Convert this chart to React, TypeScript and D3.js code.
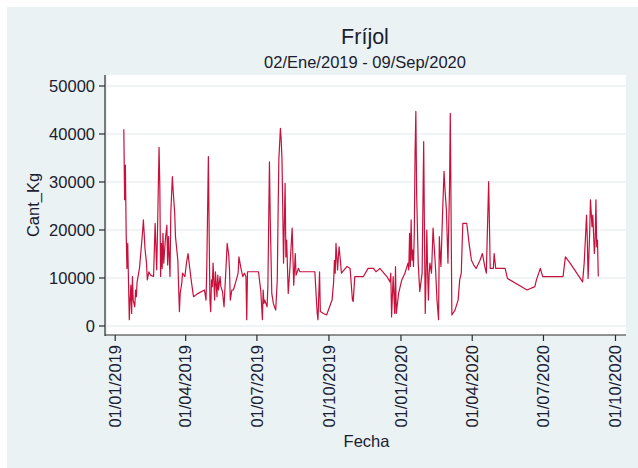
import React from "react";
import * as d3 from "d3";

const fechas = [
  "2019-01-12","2019-01-13","2019-01-14","2019-01-15","2019-01-16","2019-01-17","2019-01-18","2019-01-19","2019-01-20","2019-01-21",
  "2019-01-22","2019-01-23","2019-01-24","2019-01-26","2019-01-27","2019-01-28","2019-01-29","2019-02-01","2019-02-03","2019-02-05",
  "2019-02-06","2019-02-07","2019-02-08","2019-02-10","2019-02-11","2019-02-13","2019-02-15","2019-02-19","2019-02-21","2019-02-23",
  "2019-02-24","2019-02-26","2019-02-27","2019-02-28","2019-03-01","2019-03-02","2019-03-03","2019-03-04","2019-03-06","2019-03-08",
  "2019-03-09","2019-03-10","2019-03-12","2019-03-13","2019-03-15","2019-03-16","2019-03-18","2019-03-19","2019-03-22","2019-03-23",
  "2019-03-24","2019-03-25","2019-03-27","2019-03-28","2019-03-31","2019-04-02","2019-04-04","2019-04-07","2019-04-08","2019-04-11",
  "2019-04-17","2019-04-25","2019-04-27","2019-04-28","2019-04-30","2019-05-01","2019-05-02","2019-05-03","2019-05-04","2019-05-05",
  "2019-05-06","2019-05-08","2019-05-09","2019-05-11","2019-05-12","2019-05-13","2019-05-15","2019-05-16","2019-05-18","2019-05-20",
  "2019-05-23","2019-05-24","2019-05-26","2019-05-27","2019-05-28","2019-05-30","2019-06-01","2019-06-04","2019-06-07","2019-06-08",
  "2019-06-11","2019-06-13","2019-06-15","2019-06-17","2019-06-18","2019-06-19","2019-07-03","2019-07-06","2019-07-08","2019-07-09",
  "2019-07-10","2019-07-11","2019-07-14","2019-07-15","2019-07-17","2019-07-18","2019-07-20","2019-07-22","2019-07-25","2019-07-27",
  "2019-07-28","2019-07-29","2019-07-31","2019-08-01","2019-08-02","2019-08-03","2019-08-04","2019-08-06","2019-08-07","2019-08-08",
  "2019-08-10","2019-08-12","2019-08-15","2019-08-17","2019-08-19","2019-08-20","2019-08-23","2019-08-25","2019-09-13","2019-09-15",
  "2019-09-16","2019-09-17","2019-09-19","2019-09-20","2019-09-24","2019-09-28","2019-10-05","2019-10-07","2019-10-08","2019-10-09",
  "2019-10-10","2019-10-12","2019-10-13","2019-10-14","2019-10-17","2019-10-24","2019-10-28","2019-10-31","2019-11-01","2019-11-03",
  "2019-11-14","2019-11-20","2019-11-27","2019-11-30","2019-12-03","2019-12-05","2019-12-14","2019-12-18","2019-12-19","2019-12-20",
  "2019-12-22","2019-12-24","2019-12-25","2019-12-26","2019-12-29","2020-01-02","2020-01-06","2020-01-10","2020-01-11","2020-01-12",
  "2020-01-13","2020-01-14","2020-01-15","2020-01-16","2020-01-17","2020-01-18","2020-01-19","2020-01-20","2020-01-21","2020-01-23",
  "2020-01-25","2020-01-28","2020-01-30","2020-01-31","2020-02-01","2020-02-02","2020-02-03","2020-02-04","2020-02-05","2020-02-06",
  "2020-02-07","2020-02-09","2020-02-11","2020-02-14","2020-02-16","2020-02-18","2020-02-19","2020-02-20","2020-02-21","2020-02-23",
  "2020-02-25","2020-02-26","2020-02-28","2020-03-01","2020-03-03","2020-03-04","2020-03-06","2020-03-10","2020-03-14","2020-03-16",
  "2020-03-18","2020-03-20","2020-03-25","2020-03-28","2020-03-31","2020-04-03","2020-04-06","2020-04-11","2020-04-14","2020-04-17",
  "2020-04-19","2020-04-22","2020-04-23","2020-04-24","2020-04-28","2020-04-29","2020-05-01","2020-05-13","2020-05-16","2020-06-10",
  "2020-06-20","2020-06-22","2020-06-27","2020-06-30","2020-07-26","2020-07-29","2020-08-04","2020-08-20","2020-08-22","2020-08-24",
  "2020-08-25","2020-08-26","2020-08-27","2020-08-29","2020-08-30","2020-09-01","2020-09-02","2020-09-04","2020-09-05","2020-09-06",
  "2020-09-07","2020-09-08","2020-09-09"
];

const cantKg = [
  41000,26300,33500,19300,12000,17200,9200,1300,5400,8500,
  2600,10300,5400,4000,7500,6100,9200,12000,15800,19700,
  22100,19300,16200,13100,9600,11300,10600,10300,21400,11700,
  19300,37200,29000,10300,17200,12000,19300,13100,17900,21000,
  12700,18600,10300,23500,31100,28300,23500,18600,13700,8200,
  3000,6800,8900,11000,10300,13100,15100,11000,9600,6100,
  6800,7500,5400,12400,35300,19300,5400,3000,9600,8200,
  13100,5400,11300,6100,10600,7500,10300,8200,7200,4000,
  13700,17200,14800,11700,5400,7500,7500,9200,11000,14400,
  11700,10300,11000,10300,1300,11300,11300,7200,1300,7500,
  4700,5400,4000,8200,34200,22400,6800,4700,3300,9600,
  22800,34600,41200,38800,34900,24200,13100,29700,14400,17900,
  6800,11700,20400,8500,15100,10600,12000,11300,11300,5400,
  2600,1300,11300,3000,2600,2300,5400,9200,13700,11000,
  17200,11700,14400,16500,11000,12400,12000,5400,5100,10300,
  10300,12000,12000,11300,11700,12000,10300,9200,11000,1900,
  10300,2600,12400,2600,6800,9600,11000,13100,11700,19300,
  12400,22100,13700,15800,12400,19300,36000,44700,27600,13100,
  7200,11000,38400,19300,2600,10300,20000,11700,5400,11000,
  13100,11000,20400,12400,5400,1300,18600,15100,12400,22800,
  32200,29000,24200,13100,28700,44300,2300,3300,5400,9600,
  11000,21400,21400,17200,13700,12700,12000,13700,15100,12400,
  11000,30100,21000,12000,12000,15100,12000,12000,9900,7500,
  8200,9600,12000,10300,10300,14400,13100,9200,13100,19700,
  23100,17900,9900,19300,26300,20700,23100,15100,17900,26300,
  16500,17900,10300
];

const yTicks = [0, 10000, 20000, 30000, 40000, 50000];
const xTicks = ["2019-01-01","2019-04-01","2019-07-01","2019-10-01","2020-01-01","2020-04-01","2020-07-01","2020-10-01"];

const titleText = "Fríjol";
const subtitleText = "02/Ene/2019 - 09/Sep/2020";
const yTitle = "Cant_Kg";
const xTitle = "Fecha";

const FONT = "'Liberation Sans', Arial, Helvetica, sans-serif";
const TXT = "#1b2030";

export default function App() {
  const parse = d3.utcParse("%Y-%m-%d");
  const fmt = d3.utcFormat("%d/%m/%Y");
  const tickDates = xTicks.map((s) => parse(s) as Date);
  const data = fechas.map((f, i) => ({ date: parse(f) as Date, v: cantKg[i] }));

  const plot = { left: 107, right: 626, top: 75, bottom: 335 };
  const axisX = 105;

  const x = d3.scaleUtc().domain([tickDates[0], tickDates[tickDates.length - 1]]).range([115.2, 615.5]);
  const y = d3.scaleLinear().domain([0, 50000]).range([326, 86]);

  const line = d3
    .line<{ date: Date; v: number }>()
    .x((d) => x(d.date))
    .y((d) => y(d.v));

  const cx = (plot.left + plot.right) / 2;

  return (
    <svg
      width={638}
      height={468}
      style={{ position: "absolute", left: 0, top: 0, display: "block" }}
      fontFamily={FONT}
    >
      <rect x={0} y={0} width={638} height={468} fill="#ffffff" />
      <rect x={7} y={7} width={631} height={461} fill="#eaf2f3" />
      <rect x={plot.left} y={plot.top} width={plot.right - plot.left} height={plot.bottom - plot.top} fill="#ffffff" />

      {yTicks.map((t) => (
        <line key={"g" + t} x1={plot.left} x2={plot.right} y1={y(t)} y2={y(t)} stroke="#eaf2f3" strokeWidth={1.5} />
      ))}

      <path d={line(data) || ""} fill="none" stroke="#c8103c" strokeWidth={1.2} strokeLinejoin="round" />

      {/* y axis */}
      <line x1={axisX} x2={axisX} y1={plot.top} y2={plot.bottom + 1} stroke="#2a2a2a" strokeWidth={1.2} />
      {yTicks.map((t) => (
        <g key={"y" + t}>
          <line x1={axisX - 6} x2={axisX} y1={y(t)} y2={y(t)} stroke="#2a2a2a" strokeWidth={1.2} />
          <text x={axisX - 10} y={y(t)} dy="0.35em" textAnchor="end" fontSize={16.5} fill={TXT}>
            {d3.format("d")(t)}
          </text>
        </g>
      ))}

      {/* x axis */}
      <line x1={axisX} x2={plot.right} y1={plot.bottom} y2={plot.bottom} stroke="#2a2a2a" strokeWidth={1.2} />
      {tickDates.map((d, i) => (
        <g key={"x" + i}>
          <line x1={x(d)} x2={x(d)} y1={plot.bottom} y2={plot.bottom + 6} stroke="#2a2a2a" strokeWidth={1.2} />
          <text
            transform={`translate(${x(d)},${plot.bottom + 10}) rotate(-90)`}
            dy="0.35em"
            textAnchor="end"
            fontSize={16.5}
            fill={TXT}
          >
            {fmt(d)}
          </text>
        </g>
      ))}

      <text x={cx} y={447} textAnchor="middle" fontSize={16.5} fill={TXT}>
        {xTitle}
      </text>
      <text transform={`translate(39,${(plot.top + plot.bottom) / 2}) rotate(-90)`} textAnchor="middle" fontSize={16.5} fill={TXT}>
        {yTitle}
      </text>

      <text x={365} y={44} textAnchor="middle" fontSize={21.5} fill={TXT}>
        {titleText}
      </text>
      <text x={365} y={68} textAnchor="middle" fontSize={16.5} fill={TXT}>
        {subtitleText}
      </text>
    </svg>
  );
}
